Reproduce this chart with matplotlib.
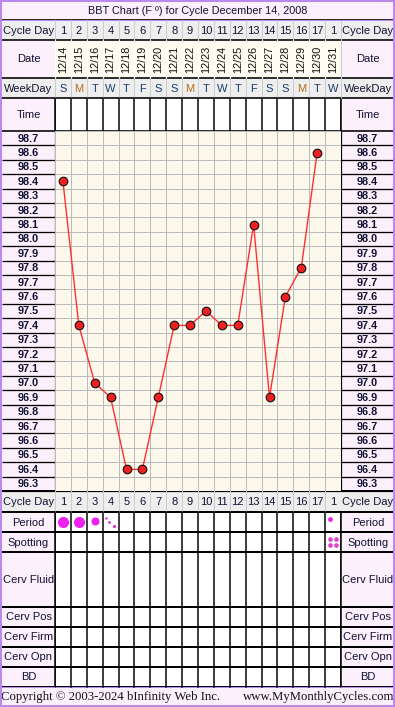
import matplotlib
matplotlib.use('Agg')
import matplotlib.pyplot as plt
from matplotlib.patches import Rectangle
from matplotlib.transforms import offset_copy

# ---------------- data ----------------
cycle_days = [1, 2, 3, 4, 5, 6, 7, 8, 9, 10, 11, 12, 13, 14, 15, 16, 17, 1]
dates = ['12/14', '12/15', '12/16', '12/17', '12/18', '12/19', '12/20', '12/21', '12/22',
         '12/23', '12/24', '12/25', '12/26', '12/27', '12/28', '12/29', '12/30', '12/31']
weekdays = ['S', 'M', 'T', 'W', 'T', 'F', 'S', 'S', 'M', 'T', 'W', 'T', 'F', 'S', 'S', 'M', 'T', 'W']
temps = [98.4, 97.4, 97.0, 96.9, 96.4, 96.4, 96.9, 97.4, 97.4, 97.5, 97.4, 97.4, 98.1,
         96.9, 97.6, 97.8, 98.6, None]
temp_labels = ['98.7', '98.6', '98.5', '98.4', '98.3', '98.2', '98.1', '98.0', '97.9', '97.8',
               '97.7', '97.6', '97.5', '97.4', '97.3', '97.2', '97.1', '97.0', '96.9', '96.8',
               '96.7', '96.6', '96.5', '96.4', '96.3']
# period flow: 3 heavy, 2 medium, 1 light, 0.5 very light (dots)
period_days = [1, 2, 3, 4, 18]
period_flow = [3, 3, 2, 0.5, 1]
spotting_days = [18]
bottom_rows = ['Period', 'Spotting', 'Cerv Fluid', 'Cerv Pos', 'Cerv Firm', 'Cerv Opn', 'BD']
title = 'BBT Chart (F º) for Cycle December 14, 2008'
copyright_left = 'Copyright © 2003-2024 bInfinity Web Inc.'
copyright_right = 'www.MyMonthlyCycles.com'

# ---------------- layout (pixels) ----------------
W, H = 395, 707
XL0, XL1 = 2, 55          # left label column
XR0, XR1 = 341, 393       # right label column
ndays = len(cycle_days)
T_TOP, T_BOT = 131, 491
rows_top = [(2, 20), (20, 40), (40, 78), (78, 98), (98, 131)]
bot_edges = [491, 512, 532, 552, 607, 627, 647, 667, 687]
COPY = (687, 705)

PINK = '#FCF0FC'
GRAY = '#EEEEEE'
CREAM = '#FDF8EC'
PURPLE = '#BB88EE'
FONT = 'Liberation Sans'
plt.rcParams['font.family'] = [FONT, 'DejaVu Sans']

px = 0.72  # points per pixel at 100 dpi
fig = plt.figure(figsize=(W / 100, H / 100), dpi=100)
fig.patch.set_facecolor('white')
ax = fig.add_axes([0, 0, 1, 1])
ax.set_xlim(0, W)
ax.set_ylim(H, 0)
ax.axis('off')

def rect(x0, y0, x1, y1, fc, z=0):
    ax.add_patch(Rectangle((x0, y0), x1 - x0, y1 - y0, facecolor=fc, edgecolor='none', zorder=z))

def hline(y, x0, x1, c='black', lw=2, z=3):
    ax.plot([x0, x1], [y, y], color=c, lw=lw * px, zorder=z, solid_capstyle='butt')

def vline(x, y0, y1, c='black', lw=1.5, z=3):
    ax.plot([x, x], [y0, y1], color=c, lw=lw * px, zorder=z, solid_capstyle='butt')

# title row
rect(0, 0, W, 20, PINK)
ax.text(W / 2, 11, title, ha='center', va='center', fontsize=7.8, color='#111133')

# top header rows backgrounds
rect(XL0, 20, XR1, 40, GRAY)
rect(XL0, 40, XR1, 78, PINK)
rect(XL1, 40, XR0, 78, '#FFFBEF')
rect(XL0, 78, XR1, 98, GRAY)
rect(XL0, 98, XR1, 131, PINK)
rect(XL1, 98, XR0, 131, 'white')
# temperature label columns
rect(XL0, T_TOP, XL1, T_BOT, PINK)
rect(XR0, T_TOP, XR1, T_BOT, PINK)
# bottom
rect(XL0, 491, XR1, 512, GRAY)
rect(XL0, 512, XR1, 687, PINK)
rect(XL1, 512, XR0, 687, 'white')
rect(0, COPY[0], W, H, PINK)

# labels for top rows
top_labels = [None, 'Cycle Day', 'Date', 'WeekDay', 'Time']
for (y0, y1), lab in zip(rows_top, top_labels):
    if lab:
        for xc in ((XL0 + XL1) / 2, (XR0 + XR1) / 2 + 1):
            ax.text(xc, (y0 + y1) / 2 + 0.5, lab, ha='center', va='center', fontsize=8, color='#111133')
for (y0, y1), lab in zip(zip(bot_edges[:-1], bot_edges[1:]), ['Cycle Day'] + bottom_rows):
    for xc in ((XL0 + XL1) / 2, (XR0 + XR1) / 2 + 1):
        ax.text(xc, (y0 + y1) / 2 + 0.5, lab, ha='center', va='center', fontsize=8, color='#111133')

# temperature labels
rh = (T_BOT - T_TOP) / len(temp_labels)
for i, lab in enumerate(temp_labels):
    yc = T_TOP + (i + 0.5) * rh
    for xc in ((XL0 + XL1) / 2, (XR0 + XR1) / 2):
        ax.text(xc, yc + 0.5, lab, ha='center', va='center', fontsize=7.8, fontweight='bold', color='#111133')
    if i > 0:
        hline(T_TOP + i * rh, XL0, XL1, lw=1.3)
        hline(T_TOP + i * rh, XR0, XR1, lw=1.3)

# horizontal black lines
for y in [20, 40, 78, 98, 131]:
    hline(y, XL0, XR1, lw=1.6)
for y in bot_edges:
    hline(y, XL0, XR1, lw=2)
hline(T_BOT, XL0, XR1, lw=1.2)

# day axes spanning full height: x in day units
dax = fig.add_axes([XL1 / W, 0, (XR0 - XL1) / W, 1])
dax.set_xlim(0.5, ndays + 0.5)
dax.set_ylim(H, 0)
dax.axis('off')
dax.patch.set_alpha(0)

days = list(range(1, ndays + 1))
wd_colors = {'M': '#B86A10'}
for d, cd, dt, wd in zip(days, cycle_days, dates, weekdays):
    dax.text(d, 30.5, str(cd), ha='center', va='center', fontsize=8, color='#111133')
    dax.text(d, 59, dt, ha='center', va='center', rotation=90, fontsize=7.8, color='#111111')
    dax.text(d, 88.5, wd, ha='center', va='center', fontsize=8, color=wd_colors.get(wd, '#1A3A70'))
    dax.text(d, 502, str(cd), ha='center', va='center', fontsize=8, color='#111133')

# vertical separators
for k in range(ndays + 1):
    xb = k + 0.5
    dax.plot([xb, xb], [20, 40], color='#CCCCCC', lw=1 * px, zorder=2)
    dax.plot([xb, xb], [40, 78], color='white', lw=1.2 * px, zorder=2)
    dax.plot([xb, xb], [78, 98], color='#CCCCCC', lw=1 * px, zorder=2)
    dax.plot([xb, xb], [98, 131], color='black', lw=1.5 * px, zorder=2)
    dax.plot([xb, xb], [491, 512], color='#CCCCCC', lw=1 * px, zorder=2)
    dax.plot([xb, xb], [512, 687], color='black', lw=1.5 * px, zorder=2)

# period symbols
prow = (512 + 532) / 2
for d, f in zip(period_days, period_flow):
    if f >= 3:
        dax.scatter([d], [prow], s=64, color='#EE22EE', zorder=5, linewidths=0)
    elif f >= 2:
        dax.scatter([d], [prow - 1], s=34, color='#EE22EE', zorder=5, linewidths=0)
    elif f >= 1:
        tr = offset_copy(dax.transData, fig=fig, x=-3, y=3, units='dots')
        dax.scatter([d], [prow], s=12, color='#EE22EE', zorder=5, linewidths=0, transform=tr)
    else:
        for (ox, oy, ss) in [(-4.5, 3.7, 3), (-1.2, 0.3, 4), (3, -3.7, 5)]:
            tr = offset_copy(dax.transData, fig=fig, x=ox, y=oy, units='dots')
            dax.scatter([d], [prow], s=ss, color='#E030D0', zorder=5, linewidths=0, transform=tr)
srow = (532 + 552) / 2
for d in spotting_days:
    for (ox, oy) in [(-3.5, 3), (3, 3), (-3.5, -3), (3, -3)]:
        tr = offset_copy(dax.transData, fig=fig, x=ox, y=oy, units='dots')
        dax.scatter([d], [srow], s=11, color='#DD44CC', zorder=5, linewidths=0, transform=tr)

# temperature chart axes
tax = fig.add_axes([XL1 / W, 1 - T_BOT / H, (XR0 - XL1) / W, (T_BOT - T_TOP) / H])
tax.set_facecolor(CREAM)
tax.set_xlim(0.5, ndays + 0.5)
tvals = [float(t) for t in temp_labels]
tax.set_ylim(min(tvals) - 0.05, max(tvals) + 0.05)
for k in range(ndays + 1):
    tax.axvline(k + 0.5, color='#BBBBBB', lw=1 * px, zorder=1)
for i in range(len(tvals) + 1):
    tax.axhline(min(tvals) - 0.05 + 0.1 * i, color='#BBBBBB', lw=1 * px, zorder=1)
for s in tax.spines.values():
    s.set_visible(False)
tax.set_xticks([])
tax.set_yticks([])
xs = [d for d, t in zip(days, temps) if t is not None]
ys = [t for t in temps if t is not None]
tax.plot(xs, ys, color='#FF3030', lw=1.0, zorder=3)
tax.plot(xs, ys, linestyle='none', marker='o', markersize=6.2, markerfacecolor='#EE2020',
         markeredgecolor='#111111', markeredgewidth=0.8, zorder=4)

# main vertical lines at label borders
for x in [XL1, XR0]:
    vline(x, 98, 131)
    vline(x, T_TOP, T_BOT, lw=1.2)
    vline(x, 512, 687)
vline(XL1, 20, 98, c='#CCCCCC', lw=1)
vline(XR0, 20, 98, c='#CCCCCC', lw=1)

# copyright
ax.text(1, 697, copyright_left, ha='left', va='center', fontsize=9.2, family='Liberation Serif', color='#111111')
ax.text(W - 1, 697, copyright_right, ha='right', va='center', fontsize=9.2, family='Liberation Serif', color='#111111')

# outer purple border
ax.add_patch(Rectangle((0.8, 0.8), W - 1.6, H - 1.6, facecolor='none', edgecolor=PURPLE, lw=2 * px, zorder=10))
ax.plot([0, W], [20, 20], color=PURPLE, lw=1 * px, zorder=9)
ax.plot([0, W], [COPY[0], COPY[0]], color=PURPLE, lw=1 * px, zorder=9)

fig.savefig('out.png', dpi=100)
